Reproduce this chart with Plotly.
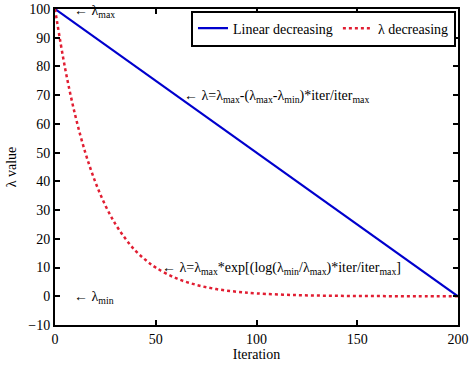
import plotly.graph_objects as go

# Data
linear_x = [0, 200]
linear_y = [100, 0]

lam_x = [0, 5, 10, 15, 20, 25, 30, 35, 40, 45, 50, 60, 70, 80, 90, 100, 120, 140, 160, 180, 200]
lam_y = [100, 79.4, 63.1, 50.1, 39.8, 31.6, 25.1, 20.0, 15.8, 12.6, 10.0, 6.3, 4.0, 2.5, 1.6, 1.0, 0.4, 0.16, 0.06, 0.03, 0.01]

x_ticks = [0, 50, 100, 150, 200]
y_ticks = [-10, 0, 10, 20, 30, 40, 50, 60, 70, 80, 90, 100]

FONT = "Liberation Serif, Times New Roman, serif"

fig = go.Figure()
fig.add_trace(go.Scatter(x=linear_x, y=linear_y, mode="lines",
                         name="Linear decreasing",
                         line=dict(color="rgb(0,0,205)", width=2.2)))
fig.add_trace(go.Scatter(x=lam_x, y=lam_y, mode="lines",
                         name="λ decreasing", line_shape="spline",
                         line=dict(color="rgb(225,30,50)", width=2.5, dash="dot")))

axis_common = dict(showgrid=False, zeroline=False, showline=True, linecolor="black",
                   linewidth=2, mirror="allticks", ticks="inside", ticklen=5,
                   tickwidth=2, tickcolor="black", automargin=False,
                   tickfont=dict(family=FONT, size=14, color="black"))

fig.update_xaxes(range=[0, 200], tickvals=x_ticks,
                 title=dict(text="Iteration", font=dict(family=FONT, size=14, color="black"),
                            standoff=2),
                 **axis_common)
fig.update_yaxes(range=[-10, 100], tickvals=y_ticks,
                 title=dict(text="λ value", font=dict(family=FONT, size=14, color="black"),
                            standoff=8),
                 **axis_common)

ann_font = dict(family=FONT, size=14, color="black")
annotations = [
    dict(x=8.4, y=1.0, text="← λ<sub>max</sub>", yref="paper", yshift=-2),
    dict(x=63, y=70.6, text="← λ=λ<sub>max</sub>-(λ<sub>max</sub>-λ<sub>min</sub>)*iter/iter<sub>max</sub>", yref="y", yshift=-3),
    dict(x=52, y=10.7, text="← λ=λ<sub>max</sub>*exp[(log(λ<sub>min</sub>/λ<sub>max</sub>)*iter/iter<sub>max</sub>]", yref="y", yshift=-3),
    dict(x=8.4, y=0.7, text="← λ<sub>min</sub>", yref="y", yshift=-3),
]
for a in annotations:
    fig.add_annotation(x=a["x"], y=a["y"], yref=a["yref"], text=a["text"], showarrow=False,
                       xanchor="left", yanchor="middle", font=ann_font, yshift=a["yshift"])

fig.update_layout(
    width=474, height=373,
    margin=dict(l=55, r=16, t=9, b=48, autoexpand=False),
    paper_bgcolor="white", plot_bgcolor="white",
    font=dict(family=FONT, size=14, color="black"),
    legend=dict(orientation="h", x=0.995, y=0.995, xanchor="right", yanchor="top",
                bgcolor="white", bordercolor="black", borderwidth=2,
                font=dict(family=FONT, size=14, color="black"),
                itemwidth=30, tracegroupgap=0),
    showlegend=True,
)

fig.write_html("out.html", config={"displayModeBar": False},
               post_script="document.body.style.margin='0';document.body.style.padding='0';")
